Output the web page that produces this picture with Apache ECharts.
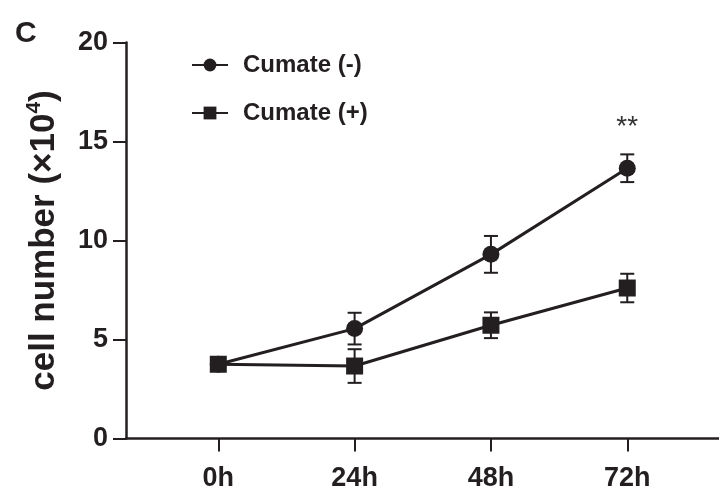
<!DOCTYPE html>
<html>
<head>
<meta charset="utf-8">
<script src="https://cdn.jsdelivr.net/npm/echarts@6/dist/echarts.min.js"></script>
<style>
  html, body { margin: 0; padding: 0; background: #fff; }
  #chart { width: 719px; height: 489px; }
</style>
</head>
<body>
<div id="chart"></div>
<script>
// time points (x positions 0..3) and their labels
const hours = ['0h', '24h', '48h', '72h']
const xPos = [0, 1, 2, 3]

// cell number (x10^4), mean and error
const cumateNeg = [3.75, 5.55, 9.3, 13.65]
const cumateNegErr = [0.15, 0.8, 0.93, 0.7]
const cumatePos = [3.75, 3.66, 5.72, 7.6]
const cumatePosErr = [0.15, 0.85, 0.65, 0.72]

const ink = '#231f20'
const font = 'Liberation Sans, Arial, sans-serif'

const lineData = vals => xPos.map((x, i) => [x, vals[i]])
const errData = (vals, errs) => xPos.map((x, i) => [x, vals[i], errs[i]])

// error bar with caps
function renderErr(params, api) {
  const x = api.value(0), y = api.value(1), e = api.value(2)
  const top = api.coord([x, y + e])
  const bot = api.coord([x, y - e])
  const w = 7
  const style = { stroke: ink, lineWidth: 2 }
  return {
    type: 'group',
    children: [
      { type: 'line', shape: { x1: top[0], y1: top[1], x2: bot[0], y2: bot[1] }, style },
      { type: 'line', shape: { x1: top[0] - w, y1: top[1], x2: top[0] + w, y2: top[1] }, style },
      { type: 'line', shape: { x1: bot[0] - w, y1: bot[1], x2: bot[0] + w, y2: bot[1] }, style }
    ]
  }
}

const chart = echarts.init(document.getElementById('chart'))
chart.setOption({
  animation: false,
  backgroundColor: '#fff',
  textStyle: { fontFamily: font, color: ink },
  title: {
    text: 'C',
    left: 10,
    top: 14,
    textStyle: { fontSize: 30, fontWeight: 'bold', color: ink, fontFamily: font }
  },
  legend: {
    data: ['Cumate (-)', 'Cumate (+)'],
    orient: 'vertical',
    left: 186,
    top: 48,
    itemWidth: 36,
    itemHeight: 16,
    itemGap: 24,
    textStyle: { fontSize: 24, fontWeight: 'bold', color: ink, fontFamily: font, padding: [0, 0, 0, 10] }
  },
  grid: { left: 126, right: 0, top: 42.5, bottom: 50.5, outerBoundsMode: 'none' },
  xAxis: {
    type: 'value',
    min: -0.677,
    max: 3.673,
    splitLine: { show: false },
    axisLine: { lineStyle: { color: ink, width: 2.5 } },
    axisTick: { show: true, customValues: xPos, length: 13, lineStyle: { color: ink, width: 2 } },
    axisLabel: {
      customValues: xPos,
      formatter: v => hours[Math.round(v)],
      fontSize: 27,
      fontWeight: 'bold',
      color: ink,
      fontFamily: font,
      margin: 27
    }
  },
  yAxis: {
    type: 'value',
    min: 0,
    max: 20,
    interval: 5,
    splitLine: { show: false },
    axisLine: { show: true, onZero: false, lineStyle: { color: ink, width: 2.5 } },
    axisTick: { show: true, length: 13, lineStyle: { color: ink, width: 2 } },
    axisLabel: { fontSize: 27, fontWeight: 'bold', color: ink, fontFamily: font, margin: 18 },
    name: '{a|cell number (×10}{s|4}{a|)}',
    nameLocation: 'middle',
    nameGap: 62,
    nameTextStyle: {
      rich: {
        a: { fontSize: 35, fontWeight: 'bold', color: ink, fontFamily: font, lineHeight: 40 },
        s: { fontSize: 21, fontWeight: 'bold', color: ink, fontFamily: font, lineHeight: 22, verticalAlign: 'top' }
      }
    }
  },
  series: [
    {
      name: 'Cumate (-)',
      type: 'line',
      data: lineData(cumateNeg),
      symbol: 'circle',
      symbolSize: 17,
      itemStyle: { color: ink },
      lineStyle: { color: ink, width: 3 },
      markPoint: {
        symbol: 'circle',
        symbolSize: 0,
        data: [{ coord: [3, 15.7], value: '**' }],
        label: { show: true, formatter: '**', fontSize: 28, color: '#333', fontFamily: font }
      }
    },
    {
      name: 'Cumate (+)',
      type: 'line',
      data: lineData(cumatePos),
      symbol: 'rect',
      symbolSize: 17,
      itemStyle: { color: ink },
      lineStyle: { color: ink, width: 3 }
    },
    {
      type: 'custom',
      renderItem: renderErr,
      data: errData(cumateNeg, cumateNegErr),
      encode: { x: 0, y: 1 },
      z: 3
    },
    {
      type: 'custom',
      renderItem: renderErr,
      data: errData(cumatePos, cumatePosErr),
      encode: { x: 0, y: 1 },
      z: 3
    }
  ]
})
</script>
</body>
</html>
